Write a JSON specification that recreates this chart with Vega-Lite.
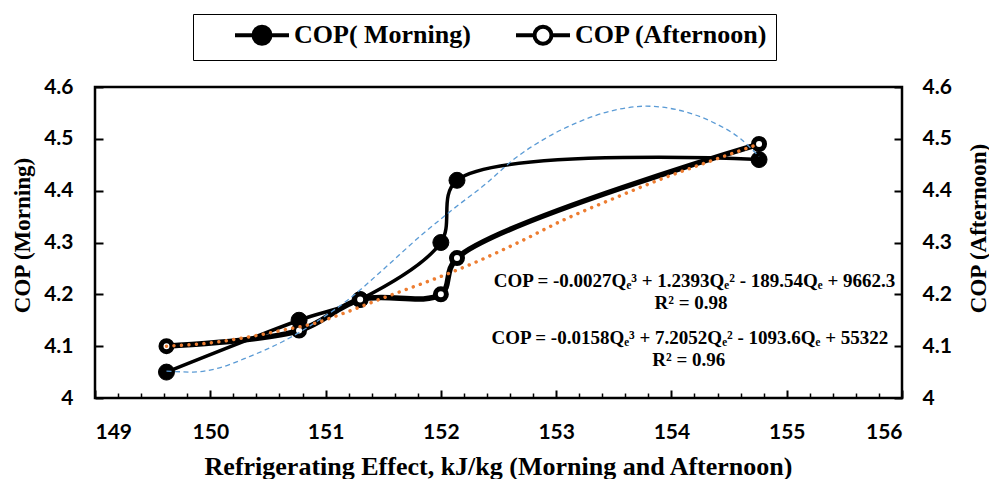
{
  "$schema": "https://vega.github.io/schema/vega-lite/v6.json",
  "width": 807,
  "height": 311,
  "autosize": {"type": "none"},
  "padding": {"left": 95, "top": 87, "right": 87, "bottom": 81},
  "background": "white",
  "config": {
    "view": {"stroke": "black", "strokeWidth": 2.5},
    "axis": {
      "grid": false,
      "domain": false,
      "ticks": true,
      "tickColor": "black",
      "tickOpacity": 1,
      "tickWidth": 2,
      "zindex": 2,
      "labelFont": "Lato",
      "labelFontWeight": "bold",
      "labelFontSize": 21,
      "labelColor": "black",
      "titleFont": "Liberation Serif",
      "titleFontWeight": "bold",
      "titleColor": "black"
    },
    "axisLeft": {"titleFontSize": 23},
    "axisRight": {"titleFontSize": 23}
  },
  "datasets": {
    "series": [
      {"series": "COP( Morning)", "Q": 149.62, "COP": 4.05},
      {"series": "COP( Morning)", "Q": 150.77, "COP": 4.15},
      {"series": "COP( Morning)", "Q": 151.3, "COP": 4.19},
      {"series": "COP( Morning)", "Q": 152.0, "COP": 4.30},
      {"series": "COP( Morning)", "Q": 152.14, "COP": 4.42},
      {"series": "COP( Morning)", "Q": 154.76, "COP": 4.46},
      {"series": "COP (Afternoon)", "Q": 149.62, "COP": 4.10},
      {"series": "COP (Afternoon)", "Q": 150.77, "COP": 4.13},
      {"series": "COP (Afternoon)", "Q": 151.3, "COP": 4.19},
      {"series": "COP (Afternoon)", "Q": 152.0, "COP": 4.20},
      {"series": "COP (Afternoon)", "Q": 152.14, "COP": 4.27},
      {"series": "COP (Afternoon)", "Q": 154.76, "COP": 4.49}
    ],
    "trend": [
      {"trend": "Poly. (COP( Morning))", "Q": 149.62, "COP": 4.052},
      {"trend": "Poly. (COP( Morning))", "Q": 149.85, "COP": 4.050},
      {"trend": "Poly. (COP( Morning))", "Q": 150.06, "COP": 4.057},
      {"trend": "Poly. (COP( Morning))", "Q": 150.34, "COP": 4.080},
      {"trend": "Poly. (COP( Morning))", "Q": 150.63, "COP": 4.109},
      {"trend": "Poly. (COP( Morning))", "Q": 150.92, "COP": 4.147},
      {"trend": "Poly. (COP( Morning))", "Q": 151.21, "COP": 4.192},
      {"trend": "Poly. (COP( Morning))", "Q": 151.5, "COP": 4.248},
      {"trend": "Poly. (COP( Morning))", "Q": 151.83, "COP": 4.314},
      {"trend": "Poly. (COP( Morning))", "Q": 152.11, "COP": 4.365},
      {"trend": "Poly. (COP( Morning))", "Q": 152.4, "COP": 4.415},
      {"trend": "Poly. (COP( Morning))", "Q": 152.63, "COP": 4.460},
      {"trend": "Poly. (COP( Morning))", "Q": 152.9, "COP": 4.500},
      {"trend": "Poly. (COP( Morning))", "Q": 153.2, "COP": 4.533},
      {"trend": "Poly. (COP( Morning))", "Q": 153.5, "COP": 4.555},
      {"trend": "Poly. (COP( Morning))", "Q": 153.78, "COP": 4.563},
      {"trend": "Poly. (COP( Morning))", "Q": 154.05, "COP": 4.556},
      {"trend": "Poly. (COP( Morning))", "Q": 154.35, "COP": 4.533},
      {"trend": "Poly. (COP( Morning))", "Q": 154.6, "COP": 4.500},
      {"trend": "Poly. (COP( Morning))", "Q": 154.76, "COP": 4.466},
      {"trend": "Poly. (COP (Afternoon))", "Q": 149.62, "COP": 4.100},
      {"trend": "Poly. (COP (Afternoon))", "Q": 150.06, "COP": 4.108},
      {"trend": "Poly. (COP (Afternoon))", "Q": 150.34, "COP": 4.118},
      {"trend": "Poly. (COP (Afternoon))", "Q": 150.63, "COP": 4.131},
      {"trend": "Poly. (COP (Afternoon))", "Q": 150.92, "COP": 4.145},
      {"trend": "Poly. (COP (Afternoon))", "Q": 151.15, "COP": 4.163},
      {"trend": "Poly. (COP (Afternoon))", "Q": 151.5, "COP": 4.193},
      {"trend": "Poly. (COP (Afternoon))", "Q": 151.96, "COP": 4.231},
      {"trend": "Poly. (COP (Afternoon))", "Q": 152.25, "COP": 4.257},
      {"trend": "Poly. (COP (Afternoon))", "Q": 152.69, "COP": 4.302},
      {"trend": "Poly. (COP (Afternoon))", "Q": 153.06, "COP": 4.343},
      {"trend": "Poly. (COP (Afternoon))", "Q": 153.5, "COP": 4.385},
      {"trend": "Poly. (COP (Afternoon))", "Q": 153.93, "COP": 4.424},
      {"trend": "Poly. (COP (Afternoon))", "Q": 154.25, "COP": 4.450},
      {"trend": "Poly. (COP (Afternoon))", "Q": 154.76, "COP": 4.490}
    ],
    "notes": [
      {"Q": 154.2, "COP": 4.2141, "text": "COP = -0.0027Qₑ³ + 1.2393Qₑ² - 189.54Qₑ + 9662.3"},
      {"Q": 154.17, "COP": 4.1717, "text": "R² = 0.98"},
      {"Q": 154.16, "COP": 4.1042, "text": "COP = -0.0158Qₑ³ + 7.2052Qₑ² - 1093.6Qₑ + 55322"},
      {"Q": 154.15, "COP": 4.0617, "text": "R² = 0.96"}
    ]
  },
  "resolve": {"scale": {"x": "independent", "y": "independent"}, "axis": {"x": "independent", "y": "independent"}},
  "layer": [
    {
      "data": {"name": "series"},
      "transform": [{"filter": "datum.series === 'COP( Morning)'"}],
      "mark": {"type": "line", "interpolate": "catmull-rom", "color": "black", "strokeWidth": 3.5},
      "encoding": {
        "x": {
          "field": "Q", "type": "quantitative",
          "scale": {"domain": [149, 156], "nice": false, "zero": false},
          "axis": {
            "orient": "bottom",
            "values": [149, 150, 151, 152, 153, 154, 155, 156],
            "format": "d",
            "offset": -8,
            "ticks": true,
            "tickSize": 8,
            "tickColor": "black",
            "labelPadding": 23,
            "title": "Refrigerating Effect, kJ/kg (Morning and Afternoon)",
            "titleFont": "Liberation Serif",
            "titleFontSize": 26,
            "titleX": 403,
            "titleY": 84,
            "titleAlign": "center",
            "titleBaseline": "alphabetic"
          }
        },
        "y": {
          "field": "COP", "type": "quantitative",
          "scale": {"domain": [4, 4.6], "nice": false, "zero": false},
          "axis": {
            "orient": "left",
            "values": [4, 4.1, 4.2, 4.3, 4.4, 4.5, 4.6],
            "format": ".1~f",
            "offset": -8,
            "ticks": true,
            "tickSize": 8,
            "tickColor": "black",
            "labelPadding": 22,
            "title": "COP (Morning)",
            "titleFont": "Liberation Serif",
            "titleFontSize": 23,
            "titleColor": "black",
            "titleAngle": -90,
            "titleX": -81,
            "titleY": 148,
            "titleAlign": "center",
            "titleBaseline": "middle"
          }
        }
      }
    },
    {
      "data": {"name": "series"},
      "transform": [{"filter": "datum.series === 'COP( Morning)'"}],
      "mark": {"type": "point", "shape": "circle", "filled": true, "size": 256, "stroke": "black", "strokeWidth": 1, "opacity": 1},
      "encoding": {
        "x": {"field": "Q", "type": "quantitative", "scale": {"domain": [149, 156], "nice": false, "zero": false}, "axis": null},
        "y": {"field": "COP", "type": "quantitative", "scale": {"domain": [4, 4.6], "nice": false, "zero": false}, "axis": null},
        "fill": {
          "field": "series", "type": "nominal",
          "scale": {"domain": ["COP( Morning)", "COP (Afternoon)"], "range": ["black", "white"]},
          "legend": {
            "orient": "none",
            "legendX": 98,
            "legendY": -73,
            "direction": "horizontal",
            "title": "\u00a0",
            "titleOrient": "left",
            "titleFontSize": 10,
            "titlePadding": 48,
            "padding": 8,
            "strokeColor": "black",
            "fillColor": "white",
            "symbolType": "M-2.7,0H-0.85M0.85,0H2.7M0.85,0A0.85,0.85,0,1,1,-0.85,0A0.85,0.85,0,1,1,0.85,0Z",
            "symbolSize": 400,
            "symbolStrokeColor": "black",
            "symbolStrokeWidth": 4,
            "labelFont": "Liberation Serif",
            "labelFontWeight": "bold",
            "labelFontSize": 26,
            "labelColor": "black",
            "labelOffset": 19,
            "labelLimit": 0,
            "columnPadding": 37,
            "labelExpr": "datum.value === 'COP (Afternoon)' ? datum.label + '\u00a0\u00a0\u00a0\u00a0\u00a0' : datum.label",
            "encode": {
              "legend": {"update": {"strokeWidth": {"value": 2.5}}},
              "symbols": {
                "update": {
                  "stroke": {"value": "black"},
                  "strokeWidth": {"signal": "datum.value === 'COP (Afternoon)' ? 5.5 : 3.5"},
                  "opacity": {"value": 1}
                }
              }
            }
          }
        }
      }
    },
    {
      "data": {"name": "series"},
      "transform": [{"filter": "datum.series === 'COP (Afternoon)'"}],
      "mark": {"type": "line", "interpolate": "catmull-rom", "color": "black", "strokeWidth": 5.5},
      "encoding": {
        "x": {
          "field": "Q", "type": "quantitative",
          "scale": {"domain": [149, 156], "nice": false, "zero": false},
          "axis": {
            "orient": "bottom",
            "values": [149.2, 149.4, 149.6, 149.8, 150.2, 150.4, 150.6, 150.8, 151.2, 151.4, 151.6, 151.8, 152.2, 152.4, 152.6, 152.8, 153.2, 153.4, 153.6, 153.8, 154.2, 154.4, 154.6, 154.8, 155.2, 155.4, 155.6, 155.8],
            "labels": false,
            "offset": -5,
            "ticks": true,
            "tickSize": 5,
            "tickWidth": 1.5,
            "tickColor": "black",
            "title": null
          }
        },
        "y": {
          "field": "COP", "type": "quantitative",
          "scale": {"domain": [4, 4.6], "nice": false, "zero": false},
          "axis": {
            "orient": "right",
            "values": [4, 4.1, 4.2, 4.3, 4.4, 4.5, 4.6],
            "format": ".1~f",
            "offset": -8,
            "ticks": true,
            "tickSize": 8,
            "tickColor": "black",
            "labelPadding": 20,
            "title": "COP (Afternoon)",
            "titleFont": "Liberation Serif",
            "titleFontSize": 23,
            "titleAngle": -90,
            "titleX": 84,
            "titleY": 141,
            "titleAlign": "center",
            "titleBaseline": "middle"
          }
        }
      }
    },
    {
      "data": {"name": "series"},
      "transform": [{"filter": "datum.series === 'COP (Afternoon)'"}],
      "mark": {"type": "point", "shape": "circle", "filled": true, "size": 121, "stroke": "black", "strokeWidth": 5, "opacity": 1},
      "encoding": {
        "x": {"field": "Q", "type": "quantitative", "scale": {"domain": [149, 156], "nice": false, "zero": false}, "axis": null},
        "y": {"field": "COP", "type": "quantitative", "scale": {"domain": [4, 4.6], "nice": false, "zero": false}, "axis": null},
        "fill": {"field": "series", "type": "nominal"}
      }
    },
    {
      "data": {"name": "trend"},
      "transform": [{"filter": "datum.trend === 'Poly. (COP( Morning))'"}],
      "mark": {"type": "line", "interpolate": "monotone", "color": "#5B9BD5", "strokeWidth": 1.3, "strokeDash": [5, 3.5]},
      "encoding": {
        "x": {"field": "Q", "type": "quantitative", "scale": {"domain": [149, 156], "nice": false, "zero": false}, "axis": null},
        "y": {"field": "COP", "type": "quantitative", "scale": {"domain": [4, 4.6], "nice": false, "zero": false}, "axis": null}
      }
    },
    {
      "data": {"name": "trend"},
      "transform": [{"filter": "datum.trend === 'Poly. (COP (Afternoon))'"}],
      "mark": {"type": "line", "interpolate": "monotone", "color": "#ED7D31", "strokeWidth": 3.5, "strokeDash": [0.01, 7.5], "strokeCap": "round"},
      "encoding": {
        "x": {"field": "Q", "type": "quantitative", "scale": {"domain": [149, 156], "nice": false, "zero": false}, "axis": null},
        "y": {"field": "COP", "type": "quantitative", "scale": {"domain": [4, 4.6], "nice": false, "zero": false}, "axis": null}
      }
    },
    {
      "data": {"name": "notes"},
      "mark": {"type": "text", "font": "Liberation Serif", "fontWeight": "bold", "fontSize": 19, "align": "center", "baseline": "alphabetic", "color": "black"},
      "encoding": {
        "x": {"field": "Q", "type": "quantitative", "scale": {"domain": [149, 156], "nice": false, "zero": false}, "axis": null},
        "y": {"field": "COP", "type": "quantitative", "scale": {"domain": [4, 4.6], "nice": false, "zero": false}, "axis": null},
        "text": {"field": "text", "type": "nominal"}
      }
    }
  ]
}
